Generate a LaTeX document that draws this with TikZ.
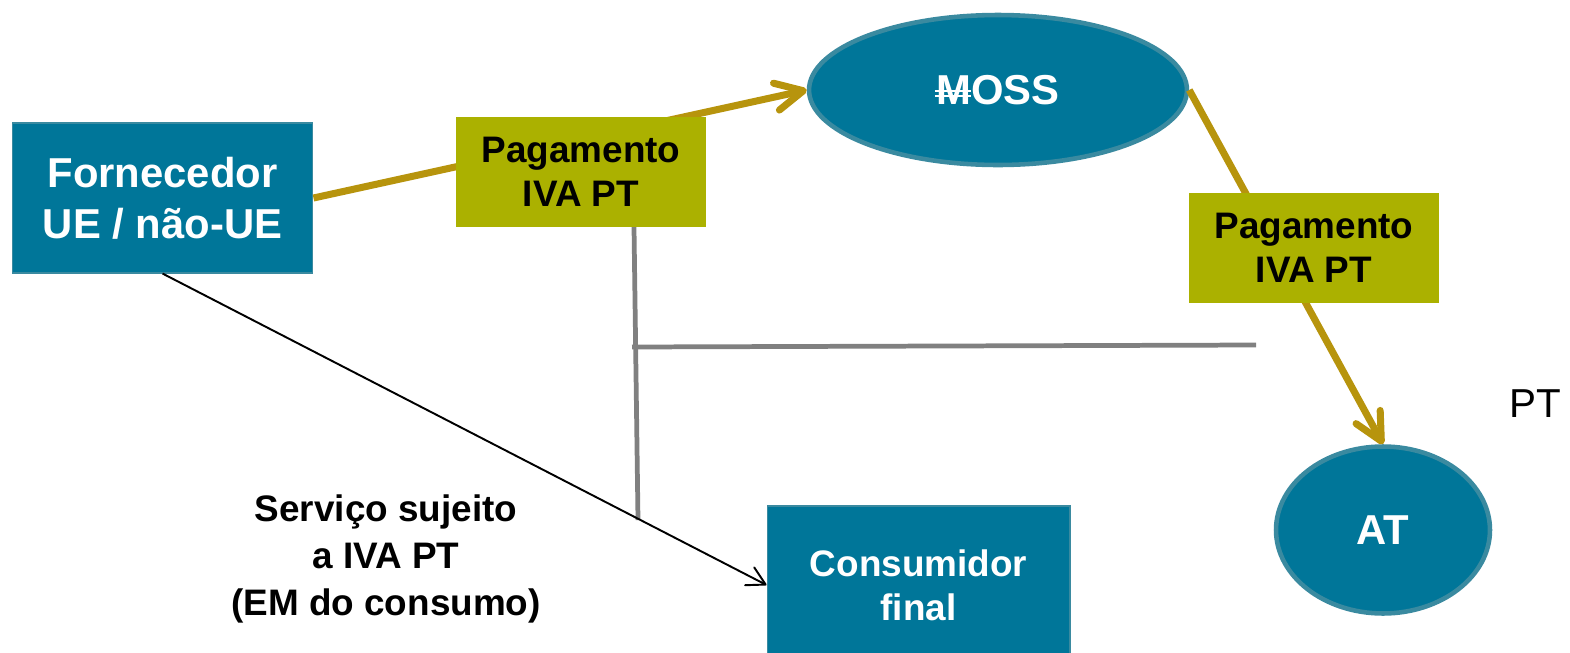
\documentclass[tikz,border=0pt]{standalone}
\usepackage{fontspec}
\setmainfont{Liberation Sans}
\usetikzlibrary{positioning,shapes.geometric,arrows.meta}
\definecolor{tealbox}{RGB}{0,118,153}
\definecolor{tealedge}{RGB}{58,138,160}
\definecolor{olivebox}{RGB}{171,177,0}
\definecolor{goldline}{RGB}{183,148,13}
\definecolor{greyline}{RGB}{128,128,128}
\tikzset{
  bluebox/.style={rectangle, fill=tealbox, draw=tealedge, line width=0.6pt,
    text=white, align=center, inner sep=0pt},
  paybox/.style={rectangle, fill=olivebox, minimum width=5cm, minimum height=2.2cm,
    font=\bfseries\fontsize{21}{25}\selectfont, align=center, inner sep=0pt},
  blueoval/.style={ellipse, fill=tealbox, draw=tealedge, line width=2.6pt,
    text=white, font=\bfseries\fontsize{23.8}{28}\selectfont, inner sep=0pt},
  payline/.style={goldline, line width=4pt, -{Straight Barb[round,length=5.5mm,width=5.5mm]}},
  splitline/.style={greyline, line width=2.7pt},
}
% M with the double stroke through it
\newcommand{\struckM}{\makebox[0pt][l]{\kern-0.04em\rule[0.17em]{0.86em}{0.06em}}%
  \makebox[0pt][l]{\kern-0.04em\rule[0.29em]{0.86em}{0.06em}}M}
\begin{document}
\begin{tikzpicture}[x=0.02cm,y=-0.02cm]
	\useasboundingbox (0,0) rectangle (1570,653);
	% main nodes
	\node[bluebox, minimum width=6.02cm, minimum height=3cm,
	  font=\bfseries\fontsize{23.8}{29}\selectfont] (forn) at (162.5,198) {Fornecedor\\UE / não-UE};
	\node[bluebox, minimum width=6.06cm, minimum height=3.16cm,
	  font=\bfseries\fontsize{21}{25}\selectfont] (cons) at (918.5,585) {Consumidor\\final};
	\node[blueoval, minimum width=7.56cm, minimum height=3cm] (moss) at (998,90) {\struckM OSS};
	\node[blueoval, minimum width=4.28cm, minimum height=3.34cm] (at) at (1383,530) {AT};
	% texts
	\node[font=\bfseries\fontsize{21}{26.5}\selectfont, align=center] (serv) at (386,559)
	  {Serviço sujeito\\a IVA PT\\(EM do consumo)};
	\node[font=\fontsize{23}{27}\selectfont] (pt) at (1535,404) {PT};
	% payments
	\draw[payline] (forn.east) -- (moss.west);
	\draw[payline] (moss.east) -- (at.north);
	% border lines
	\coordinate (vtop) at (634,227);
	\coordinate (vbot) at (638,520);
	\coordinate (hleft) at (632,347);
	\coordinate (hright) at (1256,345);
	\draw[splitline] (vtop) -- (vbot);
	\draw[splitline] (hleft) -- (hright);
	% service
	\draw[line width=1.1pt, -{Straight Barb[round,length=3.6mm,width=4mm]}] (forn.south) -- (cons.west);
	\node[paybox] (pay1) at (581,172) {Pagamento\\IVA PT};
	\node[paybox] (pay2) at (1314,248) {Pagamento\\IVA PT};
\end{tikzpicture}
\end{document}
